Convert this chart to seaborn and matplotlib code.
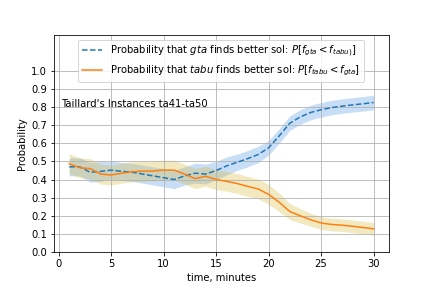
import numpy as np
import pandas as pd
import matplotlib
matplotlib.use("Agg")
import matplotlib.pyplot as plt
import seaborn as sns

minutes = list(range(1, 31))
p_gta = [0.470, 0.470, 0.440, 0.445, 0.452, 0.445, 0.440, 0.430, 0.420, 0.410,
         0.400, 0.420, 0.435, 0.430, 0.450, 0.475, 0.495, 0.515, 0.538, 0.575,
         0.640, 0.710, 0.745, 0.770, 0.785, 0.797, 0.805, 0.812, 0.818, 0.825]
gta_err = [0.05, 0.05, 0.055, 0.055, 0.05, 0.05, 0.05, 0.05, 0.05, 0.05,
           0.05, 0.05, 0.055, 0.055, 0.05, 0.05, 0.045, 0.045, 0.045, 0.04,
           0.04, 0.04, 0.04, 0.04, 0.04, 0.04, 0.04, 0.04, 0.04, 0.04]
p_tabu = [0.487, 0.465, 0.460, 0.430, 0.425, 0.435, 0.443, 0.446, 0.447, 0.452,
          0.452, 0.430, 0.405, 0.418, 0.400, 0.390, 0.378, 0.362, 0.348, 0.318,
          0.275, 0.224, 0.200, 0.178, 0.160, 0.152, 0.148, 0.142, 0.135, 0.128]
tabu_err = [0.055, 0.055, 0.055, 0.055, 0.055, 0.055, 0.055, 0.055, 0.055, 0.055,
            0.055, 0.055, 0.055, 0.055, 0.055, 0.055, 0.055, 0.055, 0.055, 0.055,
            0.05, 0.045, 0.04, 0.035, 0.035, 0.035, 0.035, 0.035, 0.035, 0.035]

df = pd.DataFrame({'t': minutes, 'gta': p_gta, 'tabu': p_tabu,
                   'gta_err': gta_err, 'tabu_err': tabu_err})

fig, ax = plt.subplots(figsize=(6, 4), dpi=72)
fig.subplots_adjust(bottom=0.125)

ax.fill_between(df['t'], df['gta'] - df['gta_err'], df['gta'] + df['gta_err'],
                color='#4a90e2', alpha=0.3, linewidth=0)
ax.fill_between(df['t'], df['tabu'] - df['tabu_err'], df['tabu'] + df['tabu_err'],
                color='#d4b830', alpha=0.3, linewidth=0)

sns.lineplot(data=df, x='t', y='gta', ax=ax, color='tab:blue', linestyle='--',
             label=r'Probability that $gta$ finds better sol: $P[f_{gta} < f_{tabu)}]$')
sns.lineplot(data=df, x='t', y='tabu', ax=ax, color='tab:orange',
             label=r'Probability that $tabu$ finds better sol: $P[f_{tabu} < f_{gta}]$')

ax.text(0.2, 0.8, "Taillard's Instances ta41-ta50")
ax.set_ylim(0, 1.2)
ax.set_yticks(np.arange(0, 1.05, 0.1))
ax.grid(True)
ax.set_xlabel('time, minutes')
ax.set_ylabel('Probability')
ax.legend(loc='upper center')

fig.savefig('out.png', dpi=72)
